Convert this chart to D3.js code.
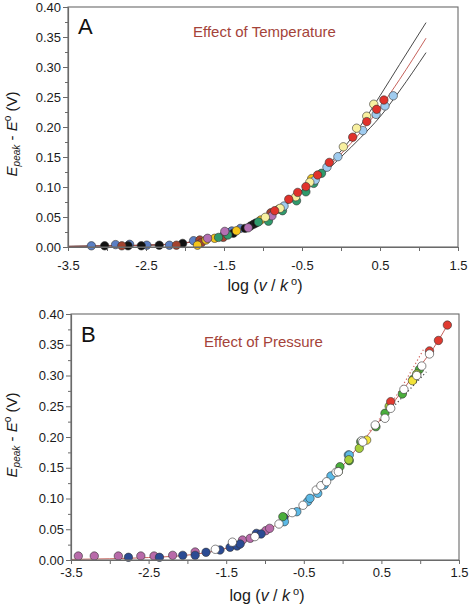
<!DOCTYPE html>
<html><head><meta charset="utf-8">
<script src="https://cdn.jsdelivr.net/npm/d3@7"></script>
<style>body{margin:0;background:#fff}svg{display:block}text{font-family:"Liberation Sans",Arial,Helvetica,sans-serif}</style>
</head><body><svg id="c" width="470" height="606"></svg>
<script>
// ---------- tick data ----------
const xTickValues = [-3.5, -2.5, -1.5, -0.5, 0.5, 1.5];
const xTickLabels = ["-3.5", "-2.5", "-1.5", "-0.5", "0.5", "1.5"];
const xMinorTicks = [-3, -2, -1, 0, 1];
const yTickValues = [0, 0.05, 0.10, 0.15, 0.20, 0.25, 0.30, 0.35, 0.40];
const yTickLabels = ["0.00", "0.05", "0.10", "0.15", "0.20", "0.25", "0.30", "0.35", "0.40"];
const yMinorTicks = [0.025, 0.075, 0.125, 0.175, 0.225, 0.275, 0.325, 0.375];

// ---------- Panel A: effect of temperature ----------
const tempCurveMid = [[-3.5,0.001],[-3,0.002],[-2.5,0.003],[-2,0.007],[-1.5,0.019],[-1,0.045],[-0.5,0.093],[-0.25,0.122],[0,0.155],[0.25,0.191],[0.5,0.232],[0.75,0.279],[1.09,0.348]];
const tempCurveUpper = [[-3.5,0.001],[-3,0.002],[-2.5,0.003],[-2,0.007],[-1.5,0.019],[-1,0.046],[-0.5,0.095],[-0.25,0.126],[0,0.160],[0.25,0.202],[0.5,0.252],[0.75,0.304],[1.09,0.374]];
const tempCurveLower = [[-3.5,0.001],[-3,0.002],[-2.5,0.003],[-2,0.007],[-1.5,0.019],[-1,0.045],[-0.5,0.091],[-0.25,0.119],[0,0.150],[0.25,0.182],[0.5,0.217],[0.75,0.260],[1.09,0.324]];

const tempBlue = [[-3.20,0.002],[-2.89,0.004],[-2.71,0.0045],[-2.49,0.003],[-2.20,0.003],[-1.89,0.0105],[-1.50,0.020],[-1.42,0.0245],[-1.40,0.0267],[-1.29,0.031]];
const tempBlack = [[-3.03,0.002],[-2.73,0.002],[-2.56,0.002],[-2.33,0.003],[-2.03,0.006],[-1.38,0.023],[-1.23,0.031],[-1.16,0.035],[-1.12,0.038],[-1.09,0.040]];
const tempBrown = [[-2.81,0.002],[-2.11,0.003],[-1.81,0.0117],[-1.79,0.007],[-1.51,0.016],[-0.90,0.057]];
const tempYellow = [[-1.84,0.003],[-1.73,0.0117],[-1.62,0.0145],[-1.34,0.027],[-1.03,0.045],[-0.80,0.063],[-0.376,0.114]];
const tempGreen = [[-1.57,0.016],[-1.45,0.020],[-1.06,0.0417],[-0.93,0.043],[-0.75,0.0605],[-0.57,0.077],[-0.45,0.092],[-0.35,0.106],[-0.25,0.1228]];
const tempPurple = [[-1.71,0.0145],[-1.49,0.026],[-1.19,0.032],[-0.885,0.052]];
const tempLightBlue = [[-0.73,0.0683],[-0.33,0.1117],[-0.18,0.133],[-0.04,0.1505],[0.28,0.194],[0.45,0.221],[0.564,0.235],[0.67,0.252]];
const tempLightYellow = [[-0.97,0.0495],[-0.78,0.0645],[-0.58,0.0838],[-0.40,0.108],[0.03,0.167],[0.20,0.198],[0.33,0.218],[0.42,0.238]];
const tempRed = [[-0.85,0.0605],[-0.67,0.0795],[-0.555,0.091],[-0.45,0.1006],[-0.30,0.12],[-0.15,0.141],[0.15,0.183],[0.33,0.209],[0.457,0.2295],[0.55,0.245]];

// ---------- Panel B: effect of pressure ----------
const presCurveMid = [[-3.5,0.001],[-3,0.002],[-2.5,0.004],[-2,0.008],[-1.5,0.019],[-1,0.046],[-0.75,0.066],[-0.5,0.090],[-0.25,0.120],[0,0.153],[0.25,0.192],[0.5,0.230],[0.75,0.272],[1,0.315],[1.235,0.357],[1.35,0.382]];
const presCurveUpper = [[0.35,0.210],[0.6,0.250],[1.05,0.344]];
const presCurveLower = [[0.45,0.222],[0.75,0.262],[1.08,0.306]];

const presPink = [[-3.406,0.0065],[-3.20,0.0065],[-2.89,0.0065],[-2.60,0.0065],[-2.43,0.0065],[-2.19,0.0076],[-1.90,0.013],[-1.29,0.0325],[-1.19,0.0353],[-0.99,0.0477],[-0.94,0.0515]];
const presNavy = [[-2.76,0.0044],[-2.36,0.0044],[-2.06,0.0076],[-1.90,0.0076],[-1.76,0.0125],[-1.58,0.0163],[-1.45,0.0206],[-1.36,0.0228],[-1.32,0.026],[-1.11,0.0433],[-1.05,0.0423],[-0.755,0.069]];
const presLightBlue = [[-0.75,0.0623],[-0.59,0.0785],[-0.45,0.095],[-0.42,0.1003],[-0.32,0.1084],[-0.236,0.122],[-0.15,0.1366],[0.074,0.1707],[0.086,0.1707]];
const presGreen = [[-0.77,0.0705],[-0.034,0.1517],[0.086,0.1615],[0.233,0.1924],[0.43,0.2168],[0.546,0.2385],[0.77,0.27],[0.91,0.294],[0.99,0.31]];
const presYellowGreen = [[-0.055,0.1436],[0.08,0.163],[0.215,0.1816],[0.60,0.25],[0.955,0.3025]];
const presYellow = [[0.31,0.195],[0.90,0.2916]];
const presRed = [[0.62,0.2575],[1.12,0.34],[1.235,0.357],[1.35,0.382]];
const presWhite = [[-1.64,0.0174],[-1.42,0.029],[-1.13,0.038],[-0.82,0.0585],[-0.65,0.077],[-0.51,0.089],[-0.34,0.1138],[-0.28,0.1208],[-0.206,0.1273],[-0.085,0.1426],[-0.055,0.1436],[0.246,0.194],[0.26,0.192],[0.42,0.2195],[0.546,0.2304],[0.62,0.2466],[0.79,0.2775],[0.955,0.30],[1.02,0.3154],[1.12,0.335]];

// ---------- drawing ----------
const svg = d3.select("#c");

function drawPanel(cfg) {
  const x = d3.scaleLinear().domain([-3.5, 1.5]).range([cfg.left, cfg.right]);
  const y = d3.scaleLinear().domain([0, 0.40]).range([cfg.bottom, cfg.top]);
  const g = svg.append("g");

  const line = d3.line().x(d => x(d[0])).y(d => y(d[1])).curve(d3.curveMonotoneX);
  cfg.lines.forEach(L => {
    g.append("path").datum(L.data).attr("d", line)
      .attr("fill", "none").attr("stroke", L.color).attr("stroke-width", L.width)
      .attr("stroke-dasharray", L.dash || null);
  });

  cfg.series.forEach(S => {
    g.append("g").selectAll("circle").data(S.data).join("circle")
      .attr("cx", d => x(d[0])).attr("cy", d => y(d[1])).attr("r", 4.2)
      .attr("fill", S.color).attr("stroke", "#333").attr("stroke-width", 0.6);
  });

  g.append("rect").attr("x", cfg.left).attr("y", cfg.top)
    .attr("width", cfg.right - cfg.left).attr("height", cfg.bottom - cfg.top)
    .attr("fill", "none").attr("stroke", "#6a6a6a").attr("stroke-width", 1.1);

  const yAx = g.append("g").attr("transform", `translate(${cfg.left},0)`)
    .call(d3.axisLeft(y).tickValues(yTickValues).tickFormat((d, i) => yTickLabels[i]).tickSize(5).tickSizeOuter(0).tickPadding(2));
  const yMin = g.append("g").attr("transform", `translate(${cfg.left},0)`)
    .call(d3.axisLeft(y).tickValues(yMinorTicks).tickFormat("").tickSize(3).tickSizeOuter(0));
  const xAx = g.append("g").attr("transform", `translate(0,${cfg.bottom})`)
    .call(d3.axisBottom(x).tickValues(xTickValues).tickFormat((d, i) => xTickLabels[i]).tickSize(4).tickSizeOuter(0).tickPadding(cfg.xPad));
  const xMin = g.append("g").attr("transform", `translate(0,${cfg.bottom})`)
    .call(d3.axisBottom(x).tickValues(xMinorTicks).tickFormat("").tickSize(4).tickSizeOuter(0));
  [yAx, yMin, xAx, xMin].forEach(a => {
    a.select(".domain").attr("stroke", "#6a6a6a").attr("stroke-width", 1.1);
    a.selectAll(".tick line").attr("stroke", "#6a6a6a").attr("stroke-width", 1);
    a.selectAll("text").attr("font-size", 13).attr("fill", "#1a1a1a")
      .attr("font-family", '"Liberation Sans",Arial,sans-serif');
  });

  g.append("text").attr("x", cfg.left + 10).attr("y", cfg.letterY)
    .attr("font-size", 22).attr("fill", "#111").text(cfg.letter);
  g.append("text").attr("x", cfg.titleX).attr("y", cfg.titleY)
    .attr("font-size", 15).attr("fill", "#a4433a").text(cfg.title);

  const xt = g.append("text").attr("x", (cfg.left + cfg.right) / 2 + 2).attr("y", cfg.xTitleY)
    .attr("text-anchor", "middle").attr("font-size", 16).attr("fill", "#1a1a1a");
  xt.append("tspan").text("log (");
  xt.append("tspan").attr("font-style", "italic").text("v");
  xt.append("tspan").text(" / ");
  xt.append("tspan").attr("font-style", "italic").text("k");
  xt.append("tspan").attr("font-size", 11).attr("dy", -6).text(" o");
  xt.append("tspan").attr("dy", 6).text(")");

  const yt = g.append("text").attr("transform", `translate(17,${cfg.yTitleC}) rotate(-90)`)
    .attr("text-anchor", "middle").attr("font-size", 15).attr("fill", "#1a1a1a");
  yt.append("tspan").attr("font-style", "italic").text("E");
  yt.append("tspan").attr("font-style", "italic").attr("font-size", 10).attr("dy", 3).text("peak");
  yt.append("tspan").attr("dy", -3).text(" - ");
  yt.append("tspan").attr("font-style", "italic").text("E");
  yt.append("tspan").attr("font-size", 10).attr("dy", -6).text("o");
  yt.append("tspan").attr("dy", 6).text(" (V)");
}

drawPanel({
  left: 68, right: 458, top: 7, bottom: 247, xPad: 10,
  letter: "A", letterY: 34, title: "Effect of Temperature", titleX: 193, titleY: 37,
  xTitleY: 291, yTitleC: 134,
  lines: [
    { data: tempCurveUpper, color: "#333", width: 0.9 },
    { data: tempCurveLower, color: "#333", width: 0.9 },
    { data: tempCurveMid, color: "#c0504a", width: 0.9 }
  ],
  series: [
    { data: tempBlue, color: "#5b7fc4" },
    { data: tempBlack, color: "#111111" },
    { data: tempBrown, color: "#a3432f" },
    { data: tempYellow, color: "#f5c518" },
    { data: tempGreen, color: "#2f9a6c" },
    { data: tempPurple, color: "#b370b3" },
    { data: tempLightBlue, color: "#9fcbef" },
    { data: tempLightYellow, color: "#f8f0a0" },
    { data: tempRed, color: "#e0322b" }
  ]
});

drawPanel({
  left: 71, right: 459, top: 314, bottom: 560, xPad: 4,
  letter: "B", letterY: 342, title: "Effect of Pressure", titleX: 204, titleY: 347,
  xTitleY: 601, yTitleC: 435,
  lines: [
    { data: presCurveUpper, color: "#d0605a", width: 1.2, dash: "1.2,2.5" },
    { data: presCurveLower, color: "#444", width: 1.2, dash: "1.2,2.5" },
    { data: presCurveMid, color: "#c0504a", width: 0.9 }
  ],
  series: [
    { data: presPink, color: "#b86aa9" },
    { data: presNavy, color: "#2b4b93" },
    { data: presLightBlue, color: "#5bb9e6" },
    { data: presGreen, color: "#4aae3c" },
    { data: presYellowGreen, color: "#a6cf3a" },
    { data: presYellow, color: "#f2e33a" },
    { data: presRed, color: "#e03a30" },
    { data: presWhite, color: "#ffffff" }
  ]
});
</script></body></html>
